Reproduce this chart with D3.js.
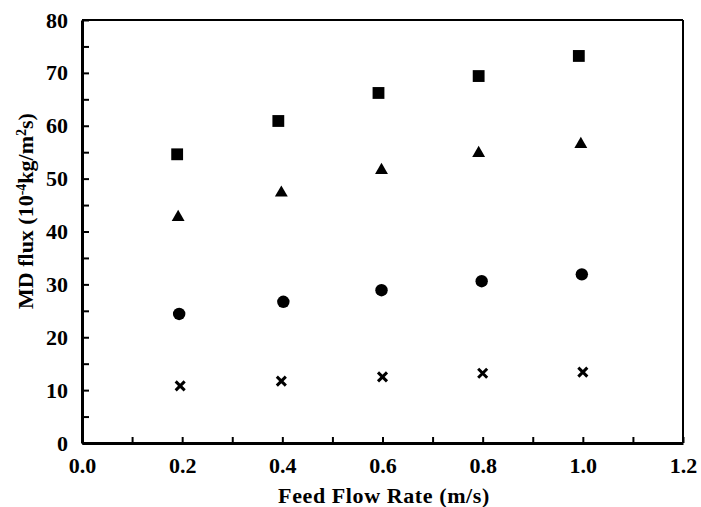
<!DOCTYPE html>
<html>
<head>
<meta charset="utf-8">
<script src="https://cdn.jsdelivr.net/npm/d3@7"></script>
<style>
  body { margin: 0; background: #fff; }
</style>
</head>
<body>
<svg id="chart" width="701" height="507"></svg>
<script>
// Feed flow rate (m/s) and MD flux per series
const squareX = [0.19, 0.392, 0.592, 0.792, 0.992];
const squareY = [54.6, 60.9, 66.2, 69.4, 73.2];
const triangleX = [0.192, 0.398, 0.598, 0.792, 0.996];
const triangleY = [42.7, 47.3, 51.6, 54.8, 56.5];
const circleX = [0.194, 0.402, 0.598, 0.798, 0.998];
const circleY = [24.4, 26.7, 28.9, 30.6, 31.9];
const crossX = [0.196, 0.398, 0.6, 0.8, 1.0];
const crossY = [10.8, 11.7, 12.5, 13.2, 13.4];

const xTicks = [0, 0.1, 0.2, 0.3, 0.4, 0.5, 0.6, 0.7, 0.8, 0.9, 1.0, 1.1, 1.2];
const yTicks = [0, 5, 10, 15, 20, 25, 30, 35, 40, 45, 50, 55, 60, 65, 70, 75, 80];

const FONT = '"Liberation Serif", "Times New Roman", Times, "DejaVu Serif", serif';

const margin = { top: 20, right: 18, bottom: 64, left: 82 };
const width = 701, height = 507;
const innerWidth = width - margin.left - margin.right;
const innerHeight = height - margin.top - margin.bottom;

const svg = d3.select('#chart');
const g = svg.append('g').attr('transform', `translate(${margin.left},${margin.top})`);

const xScale = d3.scaleLinear().domain([0, 1.2]).range([0, innerWidth]);
const yScale = d3.scaleLinear().domain([0, 80]).range([innerHeight, 0]);

// Frame: thin top/right
g.append('line').attr('x1', 0).attr('x2', innerWidth).attr('y1', 0).attr('y2', 0)
  .attr('stroke', '#000').attr('stroke-width', 2);
g.append('line').attr('x1', innerWidth).attr('x2', innerWidth).attr('y1', 0).attr('y2', innerHeight)
  .attr('stroke', '#000').attr('stroke-width', 2);

// X axis (ticks inward), labels only on even tenths
const xAxis = g.append('g')
  .attr('transform', `translate(0,${innerHeight})`)
  .attr('font-family', FONT)
  .call(d3.axisBottom(xScale)
    .tickValues(xTicks)
    .tickSizeInner(-6)
    .tickSizeOuter(0)
    .tickPadding(14)
    .tickFormat(d => (Math.round(d * 10) % 2 === 0) ? d3.format('.1f')(d) : ''));
xAxis.select('.domain').attr('stroke-width', 3);
xAxis.selectAll('.tick line').attr('stroke-width', 2);
xAxis.selectAll('.tick text')
  .attr('font-family', FONT).attr('font-weight', 'bold')
  .attr('font-size', 22).attr('dy', '0.71em');
xAxis.selectAll('.tick text').filter(function() { return this.textContent === ''; }).remove();

// Y axis (ticks inward), labels every 10
const yAxis = g.append('g')
  .attr('font-family', FONT)
  .call(d3.axisLeft(yScale)
    .tickValues(yTicks)
    .tickSizeInner(-7)
    .tickSizeOuter(0)
    .tickPadding(14)
    .tickFormat(d => d % 10 === 0 ? d : ''));
yAxis.select('.domain').attr('stroke-width', 3);
yAxis.selectAll('.tick line').attr('stroke-width', 2);
yAxis.selectAll('.tick text')
  .attr('font-family', FONT).attr('font-weight', 'bold')
  .attr('font-size', 22);
yAxis.selectAll('.tick text').filter(function() { return this.textContent === ''; }).remove();

// Markers
const toPts = (xs, ys) => xs.map((x, i) => ({ x, y: ys[i] }));

g.selectAll('.square')
  .data(toPts(squareX, squareY))
  .enter().append('path')
  .attr('class', 'square')
  .attr('d', d3.symbol().type(d3.symbolSquare).size(140))
  .attr('transform', d => `translate(${xScale(d.x)},${yScale(d.y)})`)
  .attr('fill', '#000');

g.selectAll('.triangle')
  .data(toPts(triangleX, triangleY))
  .enter().append('path')
  .attr('class', 'triangle')
  .attr('d', d3.symbol().type(d3.symbolTriangle).size(72))
  .attr('transform', d => `translate(${xScale(d.x)},${yScale(d.y)})`)
  .attr('fill', '#000');

g.selectAll('.circle')
  .data(toPts(circleX, circleY))
  .enter().append('circle')
  .attr('class', 'circle')
  .attr('cx', d => xScale(d.x))
  .attr('cy', d => yScale(d.y))
  .attr('r', 6.2)
  .attr('fill', '#000');

g.selectAll('.cross')
  .data(toPts(crossX, crossY))
  .enter().append('path')
  .attr('class', 'cross')
  .attr('d', 'M-4.5,-4.5L4.5,4.5M-4.5,4.5L4.5,-4.5')
  .attr('transform', d => `translate(${xScale(d.x)},${yScale(d.y)})`)
  .attr('stroke', '#000')
  .attr('stroke-width', 3)
  .attr('fill', 'none');

// Axis titles
svg.append('text')
  .attr('x', 384)
  .attr('y', 503)
  .attr('text-anchor', 'middle')
  .attr('font-family', FONT).attr('font-weight', 'bold')
  .attr('font-size', 22)
  .attr('letter-spacing', 0.6)
  .text('Feed Flow Rate (m/s)');

const yTitle = svg.append('text')
  .attr('transform', 'translate(33,211) rotate(-90)')
  .attr('text-anchor', 'middle')
  .attr('font-family', FONT).attr('font-weight', 'bold')
  .attr('font-size', 22);
yTitle.append('tspan').text('MD flux (10');
yTitle.append('tspan').attr('baseline-shift', 'super').attr('font-size', 14).text('-4');
yTitle.append('tspan').text('kg/m');
yTitle.append('tspan').attr('baseline-shift', 'super').attr('font-size', 14).text('2');
yTitle.append('tspan').text('s)');
</script>
</body>
</html>
